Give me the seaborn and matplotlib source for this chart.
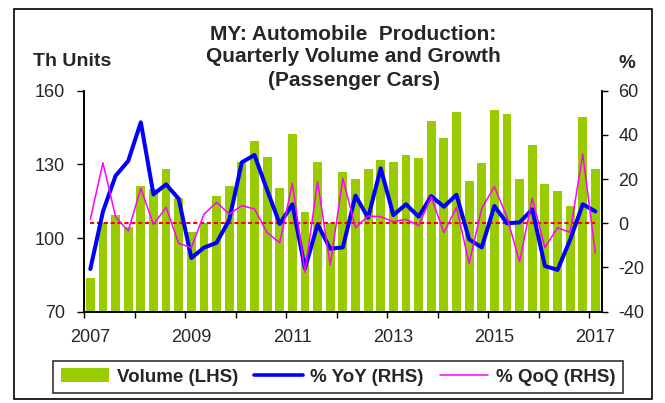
import numpy as np
import pandas as pd
import matplotlib
matplotlib.use("Agg")
import matplotlib.pyplot as plt
from matplotlib.patches import Patch, Rectangle
from matplotlib.lines import Line2D
import seaborn as sns

# ---- data: quarterly, 2007Q1 .. 2017Q1 ----
quarters = [f"{y}Q{q}" for y in range(2007, 2018) for q in range(1, 5)][:41]
volume = [83.6, 106.0, 109.4, 104.5, 121.2, 119.8, 128.1, 116.3, 102.4, 106.0,
          117.1, 121.2, 131.0, 139.4, 133.0, 120.5, 142.2, 110.7, 131.0, 106.0,
          126.7, 124.0, 128.2, 131.8, 131.0, 133.8, 132.4, 147.6, 140.9, 151.2,
          123.3, 130.4, 152.0, 150.6, 124.0, 137.9, 121.9, 119.1, 113.0, 149.1,
          128.2]
yoy = [-20.7, 5.3, 21.5, 28.2, 45.7, 13.1, 17.6, 11.1, -15.7, -11.0,
       -8.8, 1.5, 27.6, 30.9, 15.1, -0.3, 8.6, -20.4, -0.5, -11.5,
       -10.9, 12.5, 2.5, 24.9, 3.7, 8.6, 3.0, 12.3, 7.5, 12.9,
       -7.3, -10.9, 7.8, 0.0, 0.4, 6.3, -19.3, -21.1, -7.5, 8.6,
       5.4]
qoq = [1.8, 27.4, 3.0, -3.5, 15.8, -0.5, 7.2, -9.1, -11.0, 4.1,
       9.5, 4.2, 8.0, 6.5, -4.2, -8.8, 18.1, -22.2, 18.8, -18.9,
       20.3, -2.0, 3.3, 3.0, 0.7, 1.8, -1.1, 12.0, -4.2, 7.2,
       -18.1, 6.8, 16.6, 2.7, -17.4, 11.3, -11.0, -2.0, -4.1, 31.3,
       -13.6]
zero_ref = [0.0] * len(quarters)
year_labels = ["2007", "2009", "2011", "2013", "2015", "2017"]
left_ticks = [70, 100, 130, 160]
right_ticks = [-40, -20, 0, 20, 40, 60]

df = pd.DataFrame({
    "pos": np.arange(len(quarters)) + 0.5,
    "quarter": quarters,
    "volume": volume,
    "yoy": yoy,
    "qoq": qoq,
    "zero": zero_ref,
})

sns.set_theme(style="white")
plt.rcParams["font.family"] = ["Liberation Sans", "DejaVu Sans"]

fig = plt.figure(figsize=(6.65, 4.03), dpi=100)
ax = fig.add_axes([84 / 665, 1 - 311.7 / 403, (601.7 - 84) / 665, (311.7 - 90.7) / 403])

GREEN = "#99CC00"
sns.barplot(data=df, x="pos", y="volume", native_scale=True, ax=ax,
            color=GREEN, saturation=1, width=0.7, linewidth=0)
ax.set_ylim(70, 160)
ax.set_xlim(0, 41)
ax.set_yticks(left_ticks)
ax.set_yticklabels([str(t) for t in left_ticks], fontsize=13)
ax.set_xlabel("")
ax.set_ylabel("")

# x ticks: tick marks yearly at boundaries, labels every 2 years centred on Q1 bars
ax.set_xticks(np.arange(0, 41, 4))
ax.set_xticklabels([])
ax.set_xticks(np.arange(0, 41, 8) + 0.5, minor=True)
ax.set_xticklabels(year_labels, minor=True, fontsize=13)
ax.tick_params(axis="x", which="minor", length=0, pad=12.5)
ax.tick_params(axis="x", which="major", direction="out", length=4, width=1, color="black", bottom=True)
ax.tick_params(axis="y", direction="out", length=5, width=1, color="black", left=True, pad=8.5)

ax2 = ax.twinx()
sns.lineplot(data=df, x="pos", y="zero", ax=ax2, color="#FF0000", lw=1.5,
             linestyle=(0, (2.0, 1.3)))
sns.lineplot(data=df, x="pos", y="yoy", ax=ax2, color="#0000FF", lw=2.9)
sns.lineplot(data=df, x="pos", y="qoq", ax=ax2, color="#FF00FF", lw=1.1)
ax2.set_ylim(-40, 60)
ax2.set_yticks(right_ticks)
ax2.set_yticklabels([str(t) for t in right_ticks], fontsize=13)
ax2.set_xlim(0, 41)
ax2.set_xlabel("")
ax2.set_ylabel("")
ax2.tick_params(axis="y", direction="out", length=4, width=1, color="black", right=True, pad=8)

for a in (ax, ax2):
    a.grid(False)
    a.spines["top"].set_visible(False)
    for s in ("left", "right", "bottom"):
        a.spines[s].set_color("black")
        a.spines[s].set_linewidth(1.2)
    a.patch.set_alpha(0)

# titles and axis unit labels
tx = 353.5 / 665
fig.text(tx, 1 - 40 / 403, "MY: Automobile  Production:", ha="center", va="baseline",
         fontsize=15, fontweight="bold")
fig.text(tx, 1 - 62.5 / 403, "Quarterly Volume and Growth", ha="center", va="baseline",
         fontsize=15, fontweight="bold")
fig.text(tx, 1 - 86.5 / 403, "(Passenger Cars)", ha="center", va="baseline",
         fontsize=15, fontweight="bold")
fig.text(33 / 665, 1 - 66 / 403, "Th Units", ha="left", va="baseline",
         fontsize=14, fontweight="bold")
fig.text(627 / 665, 1 - 68 / 403, "%", ha="center", va="baseline",
         fontsize=13.5, fontweight="bold")

handles = [Patch(facecolor=GREEN, edgecolor="none"),
           Line2D([], [], color="#0000FF", lw=2.6),
           Line2D([], [], color="#FF00FF", lw=1.1)]
labels = ["Volume (LHS)", "% YoY (RHS)", "% QoQ (RHS)"]
leg = fig.legend(handles, labels, loc="center", bbox_to_anchor=(338 / 665, 1 - 377 / 403),
                 ncol=3, frameon=True, fancybox=False, edgecolor="black",
                 prop={"weight": "bold", "size": 13.5}, handlelength=2.6, handleheight=0.75,
                 columnspacing=0.85, handletextpad=0.4, borderpad=0.4, borderaxespad=0)
leg.get_frame().set_linewidth(1.2)

# outer frame
fig.patches.append(Rectangle((14 / 665, 4 / 403), (652 - 14) / 665, (394 - 4) / 403,
                             transform=fig.transFigure, fill=False, edgecolor="black", lw=1.2))

fig.savefig("out.png", dpi=100, facecolor="white")
